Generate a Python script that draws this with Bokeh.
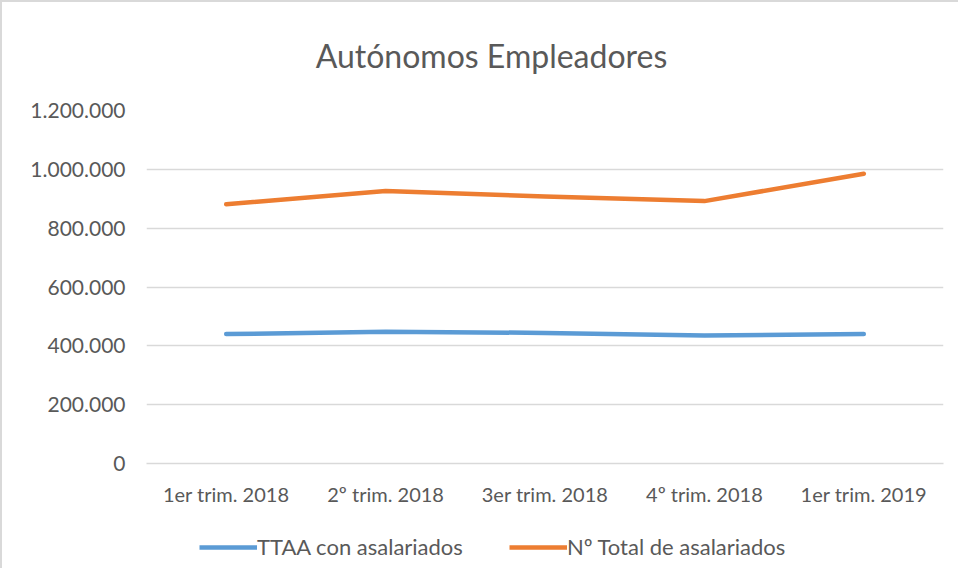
from bokeh.plotting import figure
from bokeh.layouts import column
from bokeh.models import Legend, LegendItem, Label, CustomJSTickFormatter, FixedTicker, Range1d
from bokeh.embed import file_html
from bokeh.resources import INLINE

categories = ["1er trim. 2018", "2º trim. 2018", "3er trim. 2018", "4º trim. 2018", "1er trim. 2019"]
ttaa_con_asalariados = [440000, 448000, 444000, 435000, 440000]
total_asalariados = [881000, 926000, 908000, 892000, 985000]
y_ticks = [0, 200000, 400000, 600000, 800000, 1000000, 1200000]
series_names = ["TTAA con asalariados", "Nº Total de asalariados"]
chart_title = "Autónomos Empleadores"

FONT = "Lato"
GREY = "#595959"
BLUE = "#5B9BD5"
ORANGE = "#ED7D31"
W = 956


def bare(h):
    f = figure(width=W, height=h, x_range=Range1d(0, 1), y_range=Range1d(0, 1),
               output_backend="svg", toolbar_location=None,
               x_axis_type=None, y_axis_type=None,
               min_border_left=0, min_border_right=0, min_border_top=0, min_border_bottom=0)
    f.grid.visible = False
    f.outline_line_color = None
    return f


# title strip (frame aligned with main chart frame by the column layout)
pt = bare(92)
pt.add_layout(Label(x=345, y=39, x_units="screen", y_units="screen", text=chart_title,
                    text_font=FONT, text_font_size="32px", text_color=GREY,
                    text_align="center", text_baseline="middle"))

# main chart
p = figure(x_range=categories, y_range=Range1d(0, 1200000), width=W, height=414,
           output_backend="svg", toolbar_location=None,
           min_border_left=144, min_border_right=15, min_border_top=16, min_border_bottom=44)
p.x_range.range_padding = 0.0
p.outline_line_color = None

p.line(categories, ttaa_con_asalariados, line_color=BLUE, line_width=4.5, line_cap="round", line_join="round")
p.line(categories, total_asalariados, line_color=ORANGE, line_width=4.5, line_cap="round", line_join="round")

p.yaxis.ticker = FixedTicker(ticks=y_ticks)
p.yaxis.formatter = CustomJSTickFormatter(code="return tick.toString().replace(/\\B(?=(\\d{3})+(?!\\d))/g, '.');")
p.yaxis.axis_line_color = None
p.yaxis.major_tick_line_color = None
p.yaxis.minor_tick_line_color = None
p.yaxis.major_tick_out = 0
p.yaxis.minor_tick_out = 0
p.yaxis.major_label_standoff = 21
p.yaxis.major_label_text_font = FONT
p.yaxis.major_label_text_font_size = "21px"
p.yaxis.major_label_text_color = GREY

p.xaxis.axis_line_color = "#D9D9D9"
p.xaxis.axis_line_width = 1.5
p.xaxis.major_tick_line_color = None
p.xaxis.minor_tick_line_color = None
p.xaxis.major_tick_out = 0
p.xaxis.minor_tick_out = 0
p.xaxis.major_label_standoff = 18
p.xaxis.major_label_text_font = FONT
p.xaxis.major_label_text_font_size = "20px"
p.xaxis.major_label_text_color = GREY

p.xgrid.grid_line_color = None
p.ygrid.grid_line_color = "#D9D9D9"
p.ygrid.grid_line_width = 1.5

# legend strip; its lines hold the series but fall outside this strip's range,
# so only their legend swatches show
pl = bare(60)
idx = list(range(len(categories)))
l1 = pl.line(idx, ttaa_con_asalariados, line_color=BLUE, line_width=4.5)
l2 = pl.line(idx, total_asalariados, line_color=ORANGE, line_width=4.5)
legend = Legend(items=[LegendItem(label=series_names[0], renderers=[l1]),
                       LegendItem(label=series_names[1], renderers=[l2])],
                location=(53, 8), orientation="horizontal",
                glyph_width=58, glyph_height=24, label_height=24, label_standoff=0, spacing=46,
                padding=0, margin=0, border_line_color=None, background_fill_alpha=0,
                label_text_font=FONT, label_text_font_size="22px", label_text_color=GREY)
pl.add_layout(legend, "center")

layout = column(pt, p, pl, spacing=0)
layout.styles = {"border-top": "2px solid #D9D9D9", "border-left": "2px solid #D9D9D9"}

open("out.html", "w").write(file_html(layout, INLINE))
